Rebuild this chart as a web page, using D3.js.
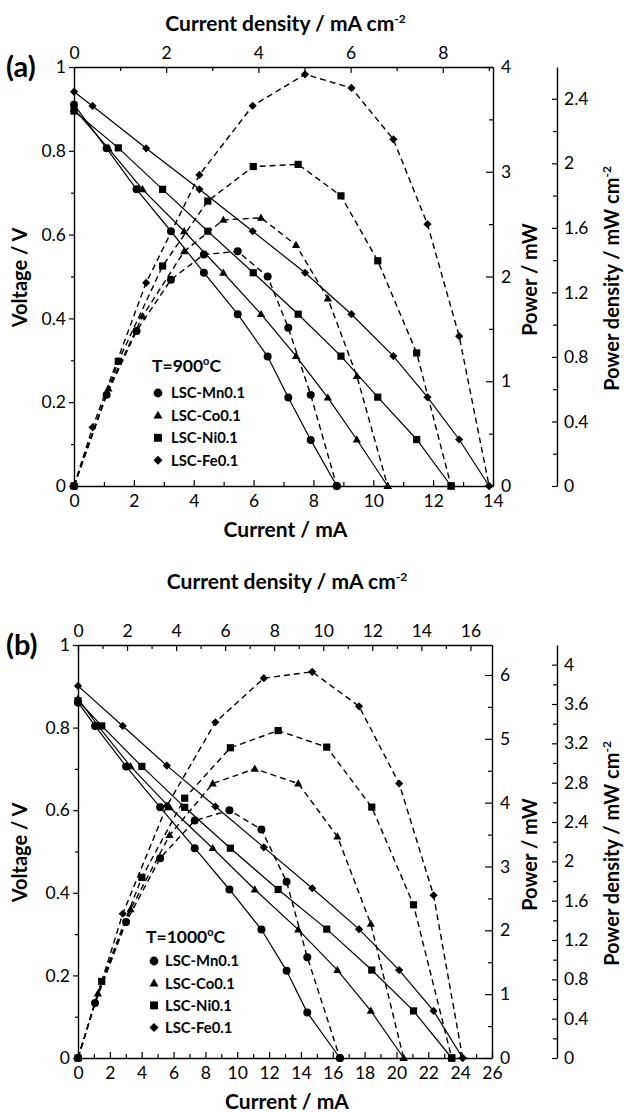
<!DOCTYPE html>
<html><head><meta charset="utf-8">
<script src="https://cdn.jsdelivr.net/npm/d3@7"></script>
<style>
body{margin:0;background:#fff;}
svg text{font-family:Lato,'Open Sans',sans-serif;fill:#000;}
</style></head><body>
<svg id="chart" width="624" height="1113"></svg>
<script>
// ---------- DATA ----------
const seriesNames = ["LSC-Mn0.1", "LSC-Co0.1", "LSC-Ni0.1", "LSC-Fe0.1"];
const seriesMarkers = ["circle", "triangle", "square", "diamond"];

// Panel (a) T = 900 oC
const currentA_Mn = [0, 1.09, 2.09, 3.24, 4.34, 5.47, 6.47, 7.16, 7.91, 8.78];
const voltA_Mn    = [0.91, 0.806, 0.708, 0.608, 0.509, 0.41, 0.309, 0.211, 0.11, 0];
const powerA_Mn   = [0, 0.87, 1.48, 1.97, 2.21, 2.24, 2.00, 1.51, 0.87, 0];
const currentA_Co = [0, 1.15, 2.29, 3.68, 4.99, 6.25, 7.42, 8.48, 9.45, 10.48];
const voltA_Co    = [0.90, 0.806, 0.708, 0.608, 0.509, 0.41, 0.31, 0.211, 0.111, 0];
const powerA_Co   = [0, 0.93, 1.62, 2.24, 2.54, 2.56, 2.30, 1.79, 1.05, 0];
const currentA_Ni = [0, 1.48, 2.96, 4.47, 5.99, 7.49, 8.92, 10.15, 11.45, 12.6];
const voltA_Ni    = [0.895, 0.807, 0.708, 0.608, 0.509, 0.41, 0.31, 0.212, 0.111, 0];
const powerA_Ni   = [0, 1.19, 2.10, 2.72, 3.05, 3.07, 2.77, 2.15, 1.27, 0];
const currentA_Fe = [0, 0.62, 2.41, 4.19, 5.97, 7.72, 9.27, 10.67, 11.81, 12.87, 13.87];
const voltA_Fe    = [0.941, 0.907, 0.806, 0.708, 0.608, 0.509, 0.41, 0.31, 0.212, 0.111, 0];
const powerA_Fe   = [0, 0.56, 1.94, 2.97, 3.63, 3.93, 3.80, 3.31, 2.50, 1.43, 0];

// Panel (b) T = 1000 oC
const currentB_Mn = [0, 1.07, 3.02, 5.16, 7.33, 9.51, 11.52, 13.1, 14.4, 16.45];
const voltB_Mn    = [0.861, 0.804, 0.706, 0.607, 0.508, 0.408, 0.311, 0.211, 0.11, 0];
const powerB_Mn   = [0, 0.86, 2.13, 3.13, 3.72, 3.88, 3.58, 2.76, 1.58, 0];
const currentB_Co = [0, 1.25, 3.3, 5.75, 8.46, 11.1, 13.83, 16.29, 18.39, 20.45];
const voltB_Co    = [0.87, 0.805, 0.706, 0.607, 0.508, 0.408, 0.311, 0.213, 0.114, 0];
const powerB_Co   = [0, 1.01, 2.33, 3.49, 4.30, 4.53, 4.30, 3.47, 2.10, 0];
const currentB_Ni = [0, 1.49, 4.01, 6.7, 9.57, 12.57, 15.62, 18.45, 21.07, 23.47];
const voltB_Ni    = [0.865, 0.804, 0.706, 0.607, 0.508, 0.408, 0.312, 0.213, 0.114, 0];
const powerB_Ni   = [0, 1.20, 2.83, 4.07, 4.86, 5.13, 4.87, 3.93, 2.40, 0];
const currentB_Fe = [0, 2.81, 5.58, 8.63, 11.67, 14.71, 17.65, 20.17, 22.33, 24.16];
const voltB_Fe    = [0.901, 0.804, 0.708, 0.609, 0.51, 0.411, 0.312, 0.213, 0.114, 0];
const powerB_Fe   = [0, 2.26, 3.95, 5.26, 5.95, 6.05, 5.51, 4.30, 2.55, 0];

// Axis ranges and tick labels
const voltTicks = [0, 0.2, 0.4, 0.6, 0.8, 1];
const currentTicksA = [0, 2, 4, 6, 8, 10, 12, 14];
const currentTicksB = [0, 2, 4, 6, 8, 10, 12, 14, 16, 18, 20, 22, 24, 26];
const densityTicksA = [0, 2, 4, 6, 8];
const densityTicksB = [0, 2, 4, 6, 8, 10, 12, 14, 16];
const powerTicksA = [0, 1, 2, 3, 4];
const powerTicksB = [0, 1, 2, 3, 4, 5, 6];
const pdTicksA = [0, 0.4, 0.8, 1.2, 1.6, 2, 2.4];
const pdTicksB = [0, 0.4, 0.8, 1.2, 1.6, 2, 2.4, 2.8, 3.2, 3.6, 4];
const currentMaxA = 14, densityMaxA = 9.09, powerMaxA = 4, pdMaxA = 2.597;
const currentMaxB = 26, densityMaxB = 16.88, powerMaxB = 6.47, pdMaxB = 4.2;

// ---------- DRAWING ----------
const svg = d3.select("#chart");
const FONT = "Lato, 'Open Sans', sans-serif";
const fmt = d3.format("~g");

function markerPath(type, s) {
  s = s || 1;
  if (type === "circle") return d3.symbol().type(d3.symbolCircle).size(50 * s * s)();
  if (type === "square") { const h = 3.6 * s; return `M${-h},${-h}H${h}V${h}H${-h}Z`; }
  if (type === "triangle") { return `M0,${-4.3*s}L${4.1*s},${2.9*s}L${-4.1*s},${2.9*s}Z`; }
  const r = 4.1 * s; return `M0,${-r}L${r},0L0,${r}L${-r},0Z`;
}

function zip(c, v) { return c.map((d, i) => ({ i: d, y: v[i] })); }

function drawPanel(c) {
  const g = svg.append("g");
  const x = d3.scaleLinear().domain([0, c.xMax]).range([c.left, c.right]);
  const xd = d3.scaleLinear().domain([0, c.densMax]).range([c.left, c.right]);
  const yV = d3.scaleLinear().domain([0, 1]).range([c.bottom, c.top]);
  const yP = d3.scaleLinear().domain([0, c.pMax]).range([c.bottom, c.top]);
  const yPD = d3.scaleLinear().domain([0, c.pdMax]).range([c.bottom, c.top]);

  function addAxis(fn, scale, pos, majors, minors, majSize, minSize, pad) {
    const gm = g.append("g").attr("transform", pos)
      .call(fn(scale).tickValues(minors).tickSize(minSize).tickSizeOuter(0).tickFormat(""));
    gm.select(".domain").remove();
    gm.selectAll("line").attr("stroke-width", 1.2);
    const ga = g.append("g").attr("transform", pos)
      .call(fn(scale).tickValues(majors).tickSize(majSize).tickSizeOuter(0).tickPadding(pad).tickFormat(fmt));
    ga.attr("font-family", null).attr("font-size", null);
    ga.selectAll("text").style("font-family", FONT).style("font-size", "17.5px");
    ga.selectAll("line").attr("stroke-width", 1.2);
    ga.select(".domain").attr("stroke-width", 1.4);
    return ga;
  }

  // Left: voltage (ticks outside)
  addAxis(d3.axisLeft, yV, `translate(${c.left},0)`, voltTicks, d3.range(0.1, 1, 0.2), 5, 3, 3);
  // Bottom: current (ticks inside)
  addAxis(d3.axisBottom, x, `translate(0,${c.bottom})`, c.xTicks, d3.range(1, c.xMax, 2), -6, -4, 9);
  // Top: current density (ticks inside)
  addAxis(d3.axisTop, xd, `translate(0,${c.top})`, c.dTicks, d3.range(1, c.densMax, 2), -6, -4, 8);
  // Right: power (ticks inside)
  addAxis(d3.axisRight, yP, `translate(${c.right},0)`, c.pTicks, d3.range(0.5, c.pMax, 1), -7, -4, 8);
  // Far right: power density (ticks pointing left)
  addAxis(d3.axisRight, yPD, `translate(${c.pdX},0)`, c.pdTicks, d3.range(0.2, c.pdMax, 0.4), -5, -4, 7);

  // Curves
  const lineV = d3.line().x(d => x(d.i)).y(d => yV(d.y));
  const lineP = d3.line().x(d => x(d.i)).y(d => yP(d.y));
  c.series.forEach(s => {
    g.append("path").attr("d", lineP(zip(s.current, s.power)))
      .attr("fill", "none").attr("stroke", "#000").attr("stroke-width", 1.4)
      .attr("stroke-dasharray", "6,4");
  });
  c.series.forEach(s => {
    g.append("path").attr("d", lineV(zip(s.current, s.volt)))
      .attr("fill", "none").attr("stroke", "#000").attr("stroke-width", 1.2);
  });
  c.series.forEach(s => {
    const mp = markerPath(s.marker);
    g.selectAll(null).data(zip(s.current, s.power)).enter().append("path")
      .attr("d", mp).attr("transform", d => `translate(${x(d.i)},${yP(d.y)})`).attr("fill", "#000");
    g.selectAll(null).data(zip(s.current, s.volt)).enter().append("path")
      .attr("d", mp).attr("transform", d => `translate(${x(d.i)},${yV(d.y)})`).attr("fill", "#000");
  });

  // Legend
  const lt = g.append("text").attr("x", c.legX).attr("y", c.legY)
    .style("font-size", "17.5px").style("font-weight", "bold").text(c.tempLabel);
  lt.append("tspan").attr("dy", -7).style("font-size", "11px").text("o");
  lt.append("tspan").attr("dy", 7).text("C");
  c.series.forEach((s, k) => {
    const cy = c.legRow0 + k * c.legStep;
    g.append("path").attr("d", markerPath(s.marker, 1.1))
      .attr("transform", `translate(${c.legMX},${cy})`).attr("fill", "#000");
    g.append("text").attr("x", c.legTX).attr("y", cy).attr("dy", "0.36em")
      .style("font-size", "14.8px").style("font-weight", "bold").text(s.name);
  });

  // Panel label
  g.append("text").attr("x", 6).attr("y", c.top + 10).style("font-size", "29px")
    .style("font-weight", "bold").text(c.panelLabel);

  // Axis titles
  const tTop = g.append("text").attr("x", (c.left + c.right) / 2 + 2).attr("y", c.topTitleY)
    .attr("text-anchor", "middle").style("font-size", "21px").style("font-weight", "bold")
    .text("Current density / mA cm");
  tTop.append("tspan").attr("dy", -8).style("font-size", "12px").text("-2");

  g.append("text").attr("x", (c.left + c.right) / 2 + 2).attr("y", c.bottomTitleY)
    .attr("text-anchor", "middle").style("font-size", "21px").style("font-weight", "bold")
    .text("Current / mA");

  const midY = (c.top + c.bottom) / 2;
  g.append("text").attr("transform", `translate(20,${midY + 1}) rotate(-90)`)
    .attr("text-anchor", "middle").attr("dy", "0.35em")
    .style("font-size", "20px").style("font-weight", "bold").text("Voltage / V");
  g.append("text").attr("transform", `translate(530,${midY + 3}) rotate(-90)`)
    .attr("text-anchor", "middle").attr("dy", "0.35em")
    .style("font-size", "20px").style("font-weight", "bold").text("Power / mW");
  const tPD = g.append("text").attr("transform", `translate(612,${midY + 2}) rotate(-90)`)
    .attr("text-anchor", "middle").attr("dy", "0.35em")
    .style("font-size", "20px").style("font-weight", "bold").text("Power density / mW cm");
  tPD.append("tspan").attr("dy", -8).style("font-size", "12px").text("-2");
}

function buildSeries(cur, volt, pow) {
  return seriesNames.map((n, k) => ({ name: n, marker: seriesMarkers[k], current: cur[k], volt: volt[k], power: pow[k] }));
}

drawPanel({
  left: 74, right: 493, top: 67, bottom: 486, pdX: 557,
  xMax: currentMaxA, densMax: densityMaxA, pMax: powerMaxA, pdMax: pdMaxA,
  xTicks: currentTicksA, dTicks: densityTicksA, pTicks: powerTicksA, pdTicks: pdTicksA,
  series: buildSeries([currentA_Mn, currentA_Co, currentA_Ni, currentA_Fe],
                      [voltA_Mn, voltA_Co, voltA_Ni, voltA_Fe],
                      [powerA_Mn, powerA_Co, powerA_Ni, powerA_Fe]),
  tempLabel: "T=900", legX: 152, legY: 372, legMX: 158, legTX: 171, legRow0: 393, legStep: 22.4,
  panelLabel: "(a)", topTitleY: 31, bottomTitleY: 537
});
drawPanel({
  left: 78, right: 492, top: 645, bottom: 1058, pdX: 557,
  xMax: currentMaxB, densMax: densityMaxB, pMax: powerMaxB, pdMax: pdMaxB,
  xTicks: currentTicksB, dTicks: densityTicksB, pTicks: powerTicksB, pdTicks: pdTicksB,
  series: buildSeries([currentB_Mn, currentB_Co, currentB_Ni, currentB_Fe],
                      [voltB_Mn, voltB_Co, voltB_Ni, voltB_Fe],
                      [powerB_Mn, powerB_Co, powerB_Ni, powerB_Fe]),
  tempLabel: "T=1000", legX: 146, legY: 943, legMX: 154, legTX: 165, legRow0: 961, legStep: 22.2,
  panelLabel: "(b)", topTitleY: 589, bottomTitleY: 1109
});
</script>
</body></html>
